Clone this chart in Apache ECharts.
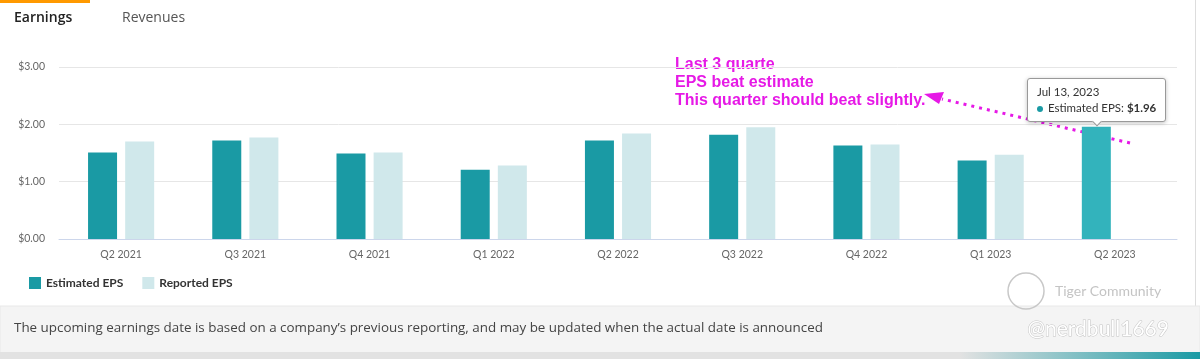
<!DOCTYPE html>
<html><head><meta charset="utf-8">
<script src="https://cdn.jsdelivr.net/npm/echarts@6/dist/echarts.min.js"></script>
<style>html,body{margin:0;padding:0;background:#fff}#c{width:1200px;height:359px}</style>
</head><body><div id="c"></div>
<script>
const categories = ['Q2 2021','Q3 2021','Q4 2021','Q1 2022','Q2 2022','Q3 2022','Q4 2022','Q1 2023','Q2 2023'];
const estimatedEPS = [1.51, 1.72, 1.49, 1.21, 1.72, 1.82, 1.63, 1.37, 1.96];
const reportedEPS  = [1.70, 1.77, 1.51, 1.28, 1.84, 1.95, 1.65, 1.47, null];
const yTicks = [0, 1, 2, 3];
const tooltipDate = 'Jul 13, 2023';
const annotationLines = ['Last 3 quarte', 'EPS beat estimate', 'This quarter should beat slightly.'];

const FONT = 'Lato, "Open Sans", sans-serif';
const FONT2 = '"Open Sans", Lato, sans-serif';
const EST = '#1a9aa4', REP = '#d0e8eb', HOVER = '#33b3bc', MAG = '#e619e6';

const chart = echarts.init(document.getElementById('c'), null, {renderer:'canvas'});
const estData = estimatedEPS.map((v,i)=> i === estimatedEPS.length-1 ? {value:v, itemStyle:{color:HOVER}} : v);

chart.setOption({
  animation:false,
  textStyle:{fontFamily:FONT},
  grid:{left:59, right:23, top:67, bottom:120},
  xAxis:{type:'category', data:categories,
    axisLine:{lineStyle:{color:'#ccd6eb'}}, axisTick:{show:false},
    axisLabel:{color:'#666', fontSize:10.5, margin:10, fontFamily:FONT}},
  yAxis:{type:'value', min:yTicks[0], max:yTicks[yTicks.length-1], interval:1,
    axisLabel:{color:'#666', fontSize:10.5, margin:14, fontFamily:FONT, formatter:v=>'$'+v.toFixed(2)},
    splitLine:{lineStyle:{color:'#e6e6e6'}}},
  legend:{left:24, top:272, itemWidth:12, itemHeight:12, itemGap:19, icon:'rect',
    textStyle:{color:'#333', fontSize:12, fontWeight:'bold', fontFamily:FONT},
    data:['Estimated EPS','Reported EPS']},
  tooltip:{trigger:'item', triggerOn:'none', alwaysShowContent:true, position:'top',
    backgroundColor:'#fff', borderColor:'#999', borderWidth:1, padding:[5,9],
    extraCssText:'box-shadow:0 1px 4px rgba(0,0,0,0.25);border-radius:3px;margin-top:5px;',
    formatter:p=>'<div style="font-family:Lato,sans-serif;font-size:11.5px;color:#333;line-height:16px">'+tooltipDate+
      '<br><span style="display:inline-block;width:6px;height:6px;border-radius:3px;background:'+EST+';margin-right:5px;vertical-align:middle"></span>'+
      p.seriesName+': <b>$'+p.value.toFixed(2)+'</b></div>'},
  series:[
    {name:'Estimated EPS', type:'bar', data:estData, itemStyle:{color:EST}, barWidth:29, barGap:'28%'},
    {name:'Reported EPS', type:'bar', data:reportedEPS, itemStyle:{color:REP}, barWidth:29}
  ],
  graphic:[
    {type:'rect', shape:{x:0,y:0,width:90,height:3}, style:{fill:'#ff9900'}},
    {type:'text', left:14, top:11, style:{text:'Earnings', font:'600 14px '+FONT2, fill:'#222'}},
    {type:'text', left:122, top:11, style:{text:'Revenues', font:'14px '+FONT2, fill:'#555'}},
    {type:'rect', shape:{x:1195,y:0,width:1,height:306}, style:{fill:'#ddd'}},
    {type:'rect', shape:{x:0,y:306,width:1200,height:47}, style:{fill:'#f4f4f4', stroke:'#e8e8e8', lineWidth:1}},
    {type:'rect', shape:{x:0,y:352,width:1200,height:7}, style:{fill:new echarts.graphic.LinearGradient(0,0,1,0,[{offset:0,color:'#e2e2e2'},{offset:0.8,color:'#e2e2e2'},{offset:1,color:'#1a9aa4'}])}},
    {type:'text', left:14, top:322, style:{text:'The upcoming earnings date is based on a company\u2019s previous reporting, and may be updated when the actual date is announced', font:'13.4px '+FONT2, fill:'#444'}},
    {type:'circle', shape:{cx:1026,cy:291,r:18}, style:{fill:'none', stroke:'#c8c8c8', lineWidth:1.5}},
    {type:'text', left:1055, top:284, style:{text:'Tiger Community', font:'14px '+FONT, fill:'#c4c4c4'}},
    {type:'text', left:1027, top:318, style:{text:'@nerdbull1669', font:'21px '+FONT, fill:'#fff', stroke:'#c4c4c4', lineWidth:1}},
    {type:'text', left:675, top:56, style:{text:annotationLines.join('\n'), font:'bold 16px Arial, "Liberation Sans", sans-serif', fill:MAG, lineHeight:18}},
    {type:'line', shape:{x1:1130,y1:143,x2:942,y2:99}, style:{stroke:MAG, lineWidth:3, lineDash:[3,5]}},
    {type:'polygon', shape:{points:[[924,94],[944,92],[939,104]]}, style:{fill:MAG}}
  ]
});
chart.dispatchAction({type:'showTip', seriesIndex:0, dataIndex:8});
</script></body></html>
